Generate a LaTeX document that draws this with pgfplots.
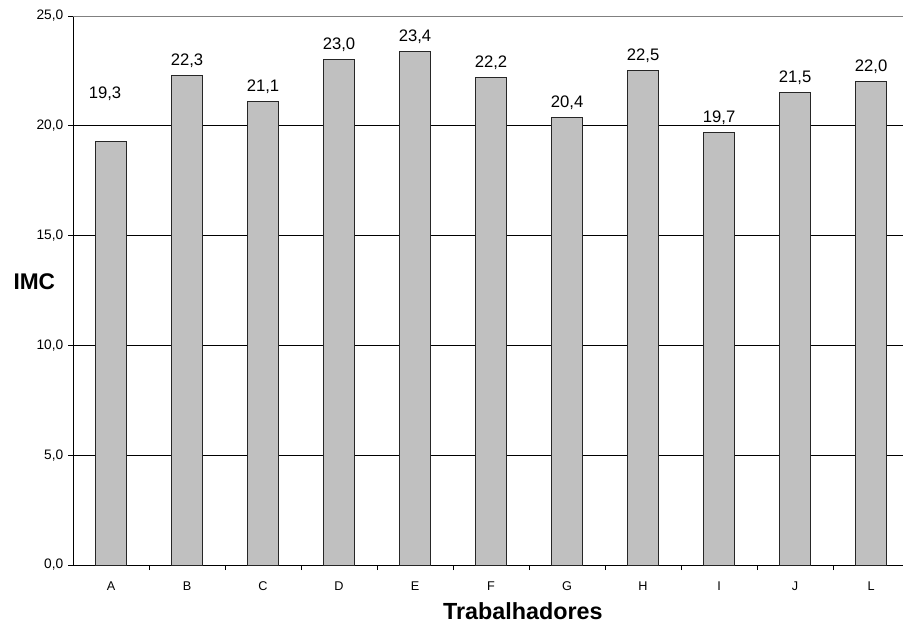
\documentclass[border=0pt]{standalone}
\usepackage{pgfplots}
\pgfplotsset{compat=1.18}
\usepackage{fontspec}
\setmainfont{Liberation Sans}
\definecolor{barfill}{HTML}{C0C0C0}

\begin{document}
\begin{tikzpicture}
\useasboundingbox (0,0) rectangle (677.25pt,469.5pt);
\begin{axis}[
    at={(54.75pt,45.75pt)}, anchor=south west,
    scale only axis, width=622.5pt, height=411.75pt,
    ybar, bar width=23.25pt,
    xmin=-0.5, xmax=10.42, ymin=0, ymax=25,
    axis x line=bottom, axis y line=left,
    axis line style={-, black, line width=0.75pt},
    tick align=outside,
    xtick={0,...,10},
    xticklabels={A,B,C,D,E,F,G,H,I,J,L},
    major x tick style={draw=none},
    minor xtick={0.5,1.5,...,9.5},
    minor tick length=3.75pt,
    major tick length=3.75pt,
    tick style={black, line width=0.75pt},
    ytick={0,5,...,20},
    extra y ticks={25},
    extra y tick style={grid style={gray, line width=0.75pt}},
    ymajorgrids,
    grid style={black, line width=0.75pt},
    /pgf/number format/.cd, fixed, fixed zerofill, precision=1, use comma, assume math mode=true,
    /pgfplots/.cd,
    yticklabel style={font=\fontsize{10.3}{12}\selectfont},
    xticklabel style={font=\fontsize{9.5}{11}\selectfont, yshift=-5pt},
    every node near coord/.append style={font=\fontsize{12.5}{14}\selectfont, anchor=base, yshift=7.5pt, black},
    ylabel={IMC},
    ylabel style={rotate=-90, at={(rel axis cs:0,0.516)}, anchor=center, xshift=-29pt, font=\bfseries\fontsize{17}{19}\selectfont},
    xlabel={Trabalhadores},
    xlabel style={at={(rel axis cs:0.542,0)}, anchor=base, yshift=-40.5pt, font=\bfseries\fontsize{17.5}{20}\selectfont},
]
\addplot[fill=barfill, draw=black!85, line width=0.75pt, bar shift=0pt]
    coordinates {(0,19.3)};
\addplot[fill=barfill, draw=black!85, line width=0.75pt, bar shift=0pt, nodes near coords]
    coordinates {
    (1,22.3) (2,21.1) (3,23.0) (4,23.4) (5,22.2)
    (6,20.4) (7,22.5) (8,19.7) (9,21.5) (10,22.0)
    };
% label of A stands higher than its bar
\addplot[draw=none, fill=none, bar shift=-4.5pt, nodes near coords, point meta=explicit]
    coordinates {(0,20.77) [19.3]};
\end{axis}
\end{tikzpicture}
\end{document}
